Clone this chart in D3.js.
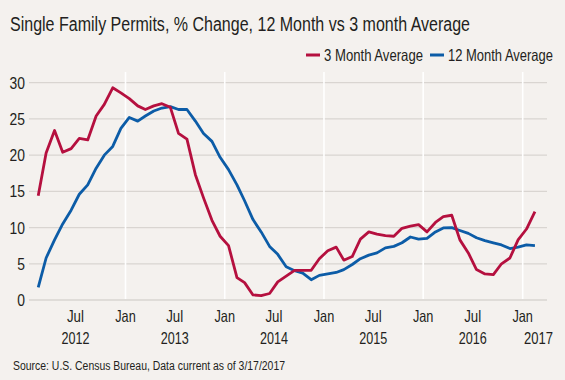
<!DOCTYPE html>
<html>
<head>
<meta charset="utf-8">
<script src="https://cdn.jsdelivr.net/npm/d3@7"></script>
<style>
  body { margin: 0; background: #f4f1ee; }
  svg text { font-family: "Liberation Sans", Arial, sans-serif; fill: #231f20; }
</style>
</head>
<body>
<div id="chart"></div>
<script>
// monthly series, Feb 2012 .. Feb 2017
var firstMonth = new Date(2012, 1, 15);
var threeMonth = [14.4, 20.3, 23.4, 20.4, 20.9, 22.3, 22.1, 25.4, 27.0, 29.3,
  28.6, 27.8, 26.8, 26.3, 26.8, 27.1, 26.6, 23.0, 22.2, 17.3,
  14.1, 11.0, 8.8, 7.5, 3.1, 2.4, 0.7, 0.6, 0.9, 2.5,
  3.3, 4.1, 4.1, 4.1, 5.7, 6.8, 7.3, 5.5, 6.0, 8.4,
  9.4, 9.1, 8.9, 8.8, 9.9, 10.2, 10.4, 9.4, 10.7, 11.5,
  11.7, 8.3, 6.5, 4.2, 3.6, 3.5, 5.0, 5.8, 8.3, 9.8, 12.2];
var twelveMonth = [1.75, 5.8, 8.3, 10.5, 12.4, 14.6, 15.9, 18.2, 20.0, 21.2,
  23.7, 25.2, 24.7, 25.4, 26.1, 26.5, 26.7, 26.3, 26.3, 24.7,
  23.0, 21.9, 19.7, 18.0, 15.9, 13.7, 11.1, 9.4, 7.4, 6.3,
  4.6, 4.05, 3.7, 2.8, 3.4, 3.6, 3.8, 4.2, 4.9, 5.7,
  6.2, 6.5, 7.2, 7.4, 7.9, 8.7, 8.4, 8.5, 9.4, 9.95,
  10.0, 9.6, 9.2, 8.6, 8.2, 7.9, 7.6, 7.1, 7.3, 7.6, 7.5];
var yTicks = [0, 5, 10, 15, 20, 25, 30];
var julYears = [2012, 2013, 2014, 2015, 2016];
var janYears = [2013, 2014, 2015, 2016, 2017];
var seriesNames = ["3 Month Average", "12 Month Average"];
var colors = ["#b5103f", "#0c5ca7"];

var width = 565, height = 380;
var svg = d3.select("#chart").append("svg")
  .attr("width", width).attr("height", height);

svg.append("rect").attr("width", width).attr("height", height).attr("fill", "#f4f1ee");

// fake a condensed face: squeeze text horizontally
function squeeze(sel, w) {
  sel.each(function(d, i) {
    var n = this.getComputedTextLength();
    var target = (typeof w === "function") ? w(n, d, i) : w;
    d3.select(this).attr("textLength", target).attr("lengthAdjust", "spacingAndGlyphs");
  });
}

var plotLeft = 29, plotRight = 547, plotTop = 72;

var x = d3.scaleTime()
  .domain([new Date(2012, 0, 1), new Date(2017, 0, 1)])
  .range([26, 522.7]);
var y = d3.scaleLinear().domain([0, 30]).range([300, 82.7]);

var months = threeMonth.map(function(d, i) { return d3.timeMonth.offset(firstMonth, i); });

// gridlines
svg.append("g").selectAll("line").data(yTicks).enter().append("line")
  .attr("x1", plotLeft).attr("x2", plotRight)
  .attr("y1", function(d) { return y(d); }).attr("y2", function(d) { return y(d); })
  .attr("stroke", "#d9d5d1").attr("stroke-width", 1.3);

// white year separators
svg.append("g").selectAll("line").data(janYears).enter().append("line")
  .attr("x1", function(d) { return x(new Date(d, 0, 1)); })
  .attr("x2", function(d) { return x(new Date(d, 0, 1)); })
  .attr("y1", plotTop).attr("y2", y(0) - 1)
  .attr("stroke", "#ffffff").attr("stroke-width", 1.6);

// y labels
svg.append("g").selectAll("text").data(yTicks).enter().append("text")
  .attr("x", 25).attr("y", function(d) { return y(d) + 6; })
  .attr("text-anchor", "end").attr("font-size", 16.5)
  .text(function(d) { return d; })
  .call(squeeze, function(n) { return n * 0.84; });

// x labels
var xl = svg.append("g").attr("font-size", 16.5).attr("text-anchor", "middle");
xl.selectAll(".jul").data(julYears).enter().append("text")
  .attr("x", function(d) { return x(new Date(d, 6, 1)); }).attr("y", 322)
  .text("Jul").call(squeeze, 17);
xl.selectAll(".jan").data(janYears).enter().append("text")
  .attr("x", function(d) { return x(new Date(d, 0, 1)); }).attr("y", 322)
  .text("Jan").call(squeeze, 20.5);
xl.selectAll(".yr").data(julYears).enter().append("text")
  .attr("x", function(d) { return x(new Date(d, 6, 1)); }).attr("y", 344)
  .text(function(d) { return d; }).call(squeeze, 28);
xl.append("text").attr("x", 553).attr("y", 344).attr("text-anchor", "end")
  .text("2017").call(squeeze, 29);

// lines
var line = d3.line()
  .x(function(d, i) { return x(months[i]); })
  .y(function(d) { return y(d); });

[twelveMonth, threeMonth].forEach(function(s, k) {
  svg.append("path").datum(s)
    .attr("d", line)
    .attr("fill", "none")
    .attr("stroke", k == 0 ? colors[1] : colors[0])
    .attr("stroke-width", 2.8)
    .attr("stroke-linejoin", "round");
});

// title
svg.append("text").attr("x", 10).attr("y", 30.5).attr("font-size", 20)
  .text("Single Family Permits, % Change, 12 Month vs 3 month Average")
  .call(squeeze, 460);

// legend
var legX = [306, 430];
var legW = [99, 105];
var leg = svg.append("g").selectAll("g").data(seriesNames).enter().append("g")
  .attr("transform", function(d, i) { return "translate(" + legX[i] + ",55)"; });
leg.append("line").attr("x1", 0).attr("x2", 14)
  .attr("stroke", function(d, i) { return colors[i]; }).attr("stroke-width", 3);
leg.append("text").attr("x", 18).attr("y", 6).attr("font-size", 16.5)
  .text(function(d) { return d; })
  .call(squeeze, function(n, d, i) { return legW[i]; });

// source
svg.append("text").attr("x", 13).attr("y", 370).attr("font-size", 12.5)
  .text("Source: U.S. Census Bureau, Data current as of 3/17/2017")
  .call(squeeze, 272);
</script>
</body>
</html>
